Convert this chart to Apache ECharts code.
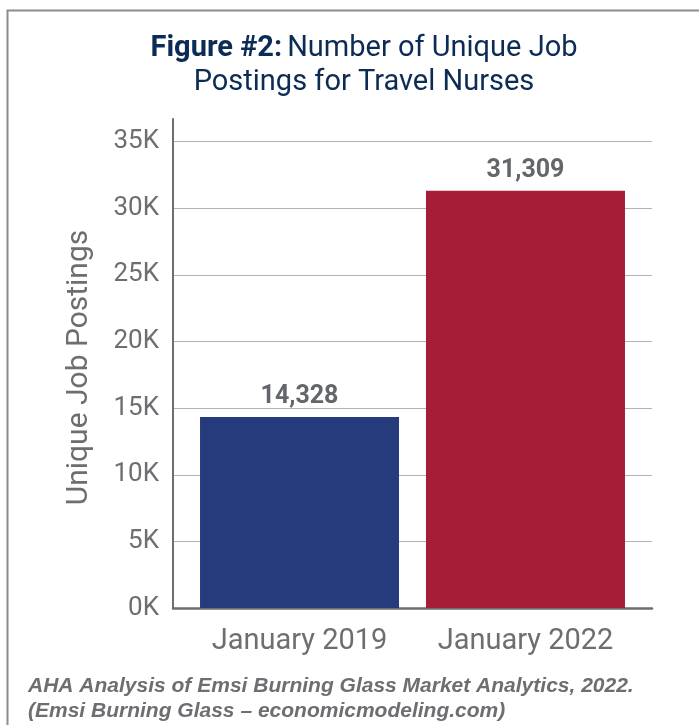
<!DOCTYPE html>
<html>
<head>
<meta charset="utf-8">
<script src="https://cdn.jsdelivr.net/npm/echarts@6/dist/echarts.min.js"></script>
<style>
  html, body { margin: 0; padding: 0; background: #fff; }
  #main { width: 699px; height: 725px; }
</style>
</head>
<body>
<div id="main"></div>
<script>
// data
var categories = ['January 2019', 'January 2022'];
var postings = [14328, 31309];
var barColors = ['#253b7c', '#a51d37'];
var yTicks = [0, 5000, 10000, 15000, 20000, 25000, 30000, 35000];

var grayText = '#6d6e71';

// one series per bar so the two bars sit a little inward, like the original
function seriesFor(i) {
  var data = categories.map(function (c, j) { return j === i ? postings[i] : '-'; });
  return {
    type: 'bar',
    name: categories[i],
    data: data,
    barWidth: 199,
    barGap: '-93.2%',
    itemStyle: { color: barColors[i] },
    label: {
      show: true,
      position: 'top',
      distance: 8,
      color: '#63666a',
      fontFamily: 'Roboto',
      fontWeight: 'bold',
      fontSize: 25,
      formatter: function (p) { return p.value.toLocaleString('en-US'); }
    }
  };
}

var myChart = echarts.init(document.getElementById('main'));
var option = {
  animation: false,
  backgroundColor: '#fff',
  title: [
    {
      text: '{b|Figure #2:} {n|Number of Unique Job}\n{n|Postings for Travel Nurses}',
      left: 359,
      top: 27,
      textAlign: 'center',
      textStyle: {
        fontWeight: 'normal',
        rich: {
          b: { fontFamily: 'Roboto', fontWeight: 'bold', fontSize: 29, color: '#0c2b55', lineHeight: 34 },
          n: { fontFamily: 'Roboto', fontWeight: 'normal', fontSize: 29, color: '#0c2b55', lineHeight: 34 }
        }
      }
    },
    {
      text: 'AHA Analysis of Emsi Burning Glass Market Analytics, 2022.\n(Emsi Burning Glass \u2013 economicmodeling.com)',
      left: 23,
      top: 669,
      textStyle: {
        fontFamily: 'Liberation Sans',
        fontStyle: 'italic',
        fontWeight: 'bold',
        fontSize: 21,
        lineHeight: 25,
        color: grayText
      }
    }
  ],
  graphic: [
    {
      type: 'polyline',
      shape: { points: [[7.5, 725], [7.5, 10.5], [699, 10.5]] },
      style: { stroke: '#8c8c8c', lineWidth: 2, fill: null }
    }
  ],
  grid: { left: 173, right: 47, top: 119, bottom: 117 },
  xAxis: {
    type: 'category',
    data: categories,
    axisLine: { lineStyle: { color: grayText, width: 2.5 } },
    axisTick: { show: false },
    axisLabel: {
      margin: 19,
      formatter: function (v, i) { return i === 0 ? '{l|' + v + '}' : '{r|' + v + '}'; },
      rich: {
        l: { fontFamily: 'Roboto', fontSize: 29, color: grayText, padding: [0, 0, 0, 13.5] },
        r: { fontFamily: 'Roboto', fontSize: 29, color: grayText, padding: [0, 13.5, 0, 0] }
      }
    }
  },
  yAxis: {
    type: 'value',
    min: yTicks[0],
    max: 36700,
    interval: yTicks[1] - yTicks[0],
    name: 'Unique Job Postings',
    nameLocation: 'middle',
    nameGap: 79,
    nameTextStyle: { fontFamily: 'Roboto', fontSize: 30, color: grayText, padding: [0, 8, 0, 0] },
    axisLine: { show: true, lineStyle: { color: grayText, width: 2 } },
    axisTick: { show: false },
    axisLabel: {
      margin: 14,
      showMaxLabel: false,
      fontFamily: 'Roboto',
      fontSize: 26,
      color: grayText,
      formatter: function (v) { return yTicks.indexOf(v) >= 0 ? (v / 1000) + 'K' : ''; }
    },
    splitLine: { show: true, showMaxLine: false, lineStyle: { color: '#b1b3b6', width: 1 } }
  },
  series: [seriesFor(1), seriesFor(0)]
};
myChart.setOption(option);
</script>
</body>
</html>
